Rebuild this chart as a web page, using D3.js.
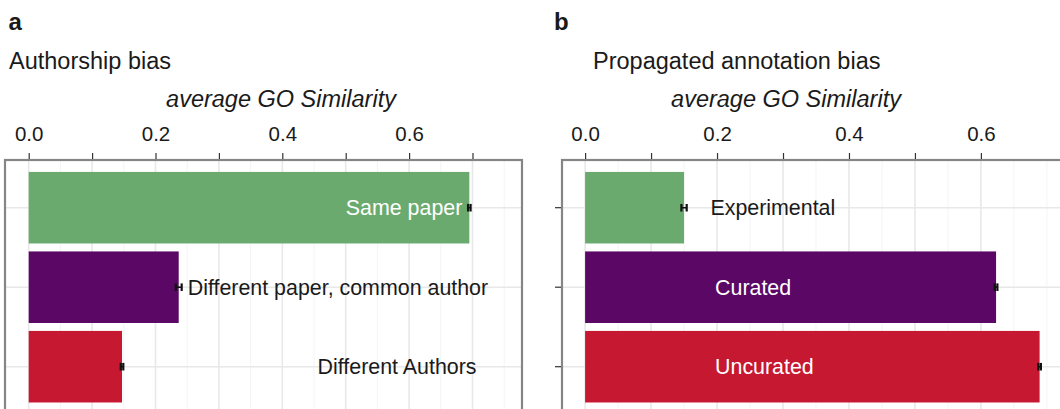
<!DOCTYPE html>
<html>
<head>
<meta charset="utf-8">
<script src="https://cdn.jsdelivr.net/npm/d3@7"></script>
<style>
  html, body { margin: 0; padding: 0; background: #ffffff; }
  svg { display: block; font-family: "Liberation Sans", Arial, Helvetica, sans-serif; }
</style>
</head>
<body>
<svg id="chart" width="1060" height="409"></svg>
<script>
// ---- data ----
const authorCategories = ["Same paper", "Different paper, common author", "Different Authors"];
const authorSimilarity = [0.695, 0.2366, 0.1472];
const authorError = [0.002, 0.0047, 0.002];

const propagatedCategories = ["Experimental", "Curated", "Uncurated"];
const propagatedSimilarity = [0.150, 0.623, 0.689];
const propagatedError = [0.004, 0.002, 0.002];

const barColors = ["#6baa6e", "#5a0766", "#c61831"];
const labelColors = ["#ffffff", "#1a1a1a", "#1a1a1a"];
const propagatedLabelColors = ["#1a1a1a", "#ffffff", "#ffffff"];

const tickValuesA = [0, 0.1, 0.2, 0.3, 0.4, 0.5, 0.6, 0.7];
const tickValuesB = [0, 0.1, 0.2, 0.3, 0.4, 0.5, 0.6];
const labelledTicks = [0, 0.2, 0.4, 0.6];
const minorGridValues = [0.05, 0.15, 0.25, 0.35, 0.45, 0.55, 0.65, 0.7, 0.75];

const svg = d3.select("#chart");
const panelTop = 160;
const panelBottom = 414.4;

function drawPanel(cfg) {
  const x = d3.scaleLinear().domain([0, cfg.tickMax]).range(cfg.xRange);
  const y = d3.scaleBand()
    .domain(cfg.categories)
    .range([panelTop, panelBottom])
    .paddingInner(0.1)
    .paddingOuter(0.15);

  const clipId = "clip-" + cfg.id;
  svg.append("clipPath").attr("id", clipId)
    .append("rect")
    .attr("x", cfg.left).attr("y", panelTop)
    .attr("width", cfg.right - cfg.left).attr("height", panelBottom - panelTop);

  const g = svg.append("g").attr("clip-path", `url(#${clipId})`);

  // minor vertical grid
  g.selectAll("line.minor")
    .data(cfg.minor)
    .join("line")
    .attr("x1", d => x(d)).attr("x2", d => x(d))
    .attr("y1", panelTop).attr("y2", panelBottom)
    .attr("stroke", "#f4f4f4").attr("stroke-width", 1);

  // major vertical grid
  g.selectAll("line.major")
    .data(cfg.ticks)
    .join("line")
    .attr("x1", d => x(d)).attr("x2", d => x(d))
    .attr("y1", panelTop).attr("y2", panelBottom)
    .attr("stroke", "#e8e8e8").attr("stroke-width", 1.6);

  // horizontal grid at category centres
  g.selectAll("line.hgrid")
    .data(cfg.categories)
    .join("line")
    .attr("x1", cfg.left).attr("x2", cfg.right)
    .attr("y1", d => y(d) + y.bandwidth() / 2)
    .attr("y2", d => y(d) + y.bandwidth() / 2)
    .attr("stroke", "#e8e8e8").attr("stroke-width", 1.6);

  // bars
  g.selectAll("rect.bar")
    .data(cfg.categories)
    .join("rect")
    .attr("x", x(0))
    .attr("y", d => y(d))
    .attr("width", (d, i) => x(cfg.values[i]) - x(0))
    .attr("height", y.bandwidth())
    .attr("fill", (d, i) => barColors[i]);

  // error bars
  const eb = g.selectAll("g.err")
    .data(cfg.categories)
    .join("g");
  eb.append("line")
    .attr("x1", (d, i) => x(cfg.values[i] - cfg.errors[i]))
    .attr("x2", (d, i) => x(cfg.values[i] + cfg.errors[i]))
    .attr("y1", d => y(d) + y.bandwidth() / 2)
    .attr("y2", d => y(d) + y.bandwidth() / 2)
    .attr("stroke", "#111").attr("stroke-width", 1.6);
  [-1, 1].forEach(s => {
    eb.append("line")
      .attr("x1", (d, i) => x(cfg.values[i] + s * cfg.errors[i]))
      .attr("x2", (d, i) => x(cfg.values[i] + s * cfg.errors[i]))
      .attr("y1", d => y(d) + y.bandwidth() / 2 - 3.8)
      .attr("y2", d => y(d) + y.bandwidth() / 2 + 3.8)
      .attr("stroke", "#111").attr("stroke-width", 2.2);
  });

  // bar labels
  g.selectAll("text.lbl")
    .data(cfg.categories)
    .join("text")
    .attr("x", (d, i) => x(cfg.labelAt[i]) + cfg.labelShift[i])
    .attr("y", d => y(d) + y.bandwidth() / 2)
    .attr("dy", "0.36em")
    .attr("text-anchor", (d, i) => cfg.labelAnchor[i])
    .attr("font-size", 21.4)
    .attr("fill", (d, i) => cfg.labelColors[i])
    .text(d => d);

  // panel border
  svg.append("rect")
    .attr("x", cfg.left).attr("y", panelTop)
    .attr("width", cfg.right - cfg.left).attr("height", panelBottom - panelTop)
    .attr("fill", "none").attr("stroke", "#858585").attr("stroke-width", 2.2);

  // top axis
  const axis = d3.axisTop(x)
    .tickValues(cfg.ticks)
    .tickSize(6)
    .tickPadding(12)
    .tickFormat(d => labelledTicks.some(v => Math.abs(v - d) < 1e-9) ? d3.format(".1f")(d) : "");
  const ax = svg.append("g").attr("transform", `translate(0,${panelTop - 1})`).call(axis);
  ax.select(".domain").remove();
  ax.selectAll(".tick line").attr("stroke", "#333").attr("stroke-width", 1.2);
  ax.selectAll(".tick text")
    .attr("font-size", 20.5)
    .attr("fill", "#1a1a1a")
    .attr("font-family", "Liberation Sans, Arial, sans-serif")
    .attr("y", -18.5)
    .attr("dy", 0);

  // left axis ticks
  if (cfg.leftTicks) {
    const lax = svg.append("g").attr("transform", `translate(${cfg.left - 1},0)`)
      .call(d3.axisLeft(y).tickSize(6).tickFormat(""));
    lax.select(".domain").remove();
    lax.selectAll(".tick line").attr("stroke", "#333").attr("stroke-width", 1.2);
  }

  // panel letter, title, axis title
  svg.append("text")
    .attr("x", cfg.letterX).attr("y", 30)
    .attr("font-size", 24).attr("font-weight", "bold").attr("fill", "#1a1a1a")
    .text(cfg.letter);
  svg.append("text")
    .attr("x", cfg.titleX).attr("y", 69.3)
    .attr("font-size", 23.5).attr("fill", "#1a1a1a")
    .text(cfg.title);
  svg.append("text")
    .attr("x", cfg.axisTitleX).attr("y", 106.5)
    .attr("text-anchor", "middle")
    .attr("font-size", 23.5).attr("font-style", "italic").attr("fill", "#1a1a1a")
    .text("average GO Similarity");
}

drawPanel({
  id: "a",
  letter: "a", letterX: 8.5,
  title: "Authorship bias", titleX: 9,
  axisTitleX: 281,
  categories: authorCategories,
  values: authorSimilarity,
  errors: authorError,
  labelColors: labelColors,
  tickMax: 0.7, xRange: [28.7, 472.5],
  left: 5, right: 522,
  leftTicks: false,
  ticks: tickValuesA,
  minor: minorGridValues,
  labelAt: [0.695, 0.2366, 0.7],
  labelShift: [-7, 9, 4],
  labelAnchor: ["end", "start", "end"]
});

drawPanel({
  id: "b",
  letter: "b", letterX: 554,
  title: "Propagated annotation bias", titleX: 593,
  axisTitleX: 786,
  categories: propagatedCategories,
  values: propagatedSimilarity,
  errors: propagatedError,
  labelColors: propagatedLabelColors,
  tickMax: 0.6, xRange: [585.1, 980.9],
  left: 562, right: 1100,
  leftTicks: true,
  ticks: tickValuesB,
  minor: minorGridValues,
  labelAt: [0.19, 0.2, 0.2],
  labelShift: [0, -2, -2],
  labelAnchor: ["start", "start", "start"]
});
</script>
</body>
</html>
